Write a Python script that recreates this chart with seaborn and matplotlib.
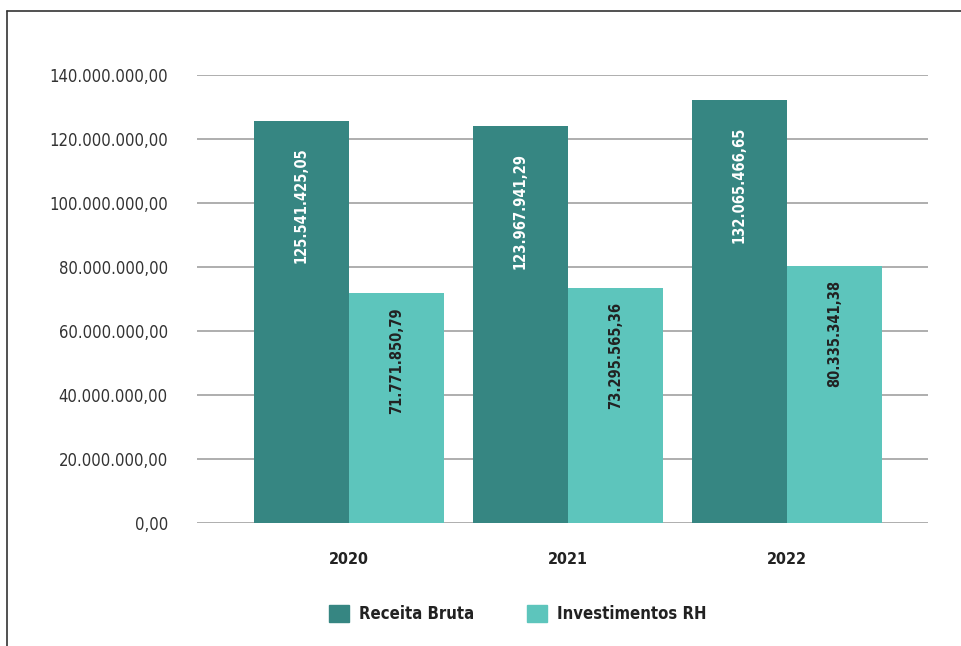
import numpy as np
import pandas as pd
import seaborn as sns
import matplotlib
matplotlib.use('Agg')
import matplotlib.pyplot as plt
from matplotlib import font_manager
from matplotlib.lines import Line2D
from matplotlib.ticker import FuncFormatter, MultipleLocator

# Data
years = ["2020", "2021", "2022"]
receita_bruta = [125541425.05, 123967941.29, 132065466.65]
investimentos_rh = [71771850.79, 73295565.36, 80335341.38]
series_names = ["Receita Bruta", "Investimentos RH"]
colors = ["#368682", "#5dc5bc"]

df = pd.DataFrame({
    "ano": years * 2,
    "serie": [series_names[0]] * len(years) + [series_names[1]] * len(years),
    "valor": receita_bruta + investimentos_rh,
})


def br_format(v, _pos=None):
    s = f"{v:,.2f}"
    return s.replace(",", "X").replace(".", ",").replace("X", ".")


sns.set_theme(style="white")

# pick a condensed face if one is there
fonts = font_manager.fontManager.ttflist
has_condensed = any(f.name == "DejaVu Sans" and "condensed" in str(f.stretch) for f in fonts)
names = {f.name for f in fonts}
if has_condensed:
    family, stretch = ["DejaVu Sans"], "condensed"
elif "Liberation Sans Narrow" in names:
    family, stretch = ["Liberation Sans Narrow"], "normal"
else:
    family, stretch = ["DejaVu Sans"], "normal"
plt.rcParams["font.family"] = family
plt.rcParams["font.stretch"] = stretch

fig = plt.figure(figsize=(9.61, 6.46), dpi=100)
ax = fig.add_axes([0.205, 0.1904, 0.7607, 0.6935])

sns.barplot(data=df, x="ano", y="valor", hue="serie", palette=colors,
            width=0.868, gap=0, saturation=1, linewidth=0, ax=ax, legend=False)

ax.set_xlim(-0.694, 2.644)
ax.set_ylim(0, 140000000)
ax.yaxis.set_major_locator(MultipleLocator(20000000))
ax.yaxis.set_major_formatter(FuncFormatter(br_format))
ax.grid(axis="y", color="#999999", linewidth=1.1)
ax.set_axisbelow(True)
for s in ax.spines.values():
    s.set_visible(False)
ax.tick_params(axis="y", length=0, pad=21, labelsize=12, labelcolor="#333333")
ax.tick_params(axis="x", length=0, pad=21, labelsize=11.5, labelcolor="#222222")
for t in ax.get_xticklabels():
    t.set_fontweight("bold")
ax.set_xlabel("")
ax.set_ylabel("")

# value labels inside bars
label_colors = ["white", "#222222"]
label_offsets = [19, 10]
for container, lc, off in zip(ax.containers, label_colors, label_offsets):
    for bar in container:
        h = bar.get_height()
        ax.annotate(br_format(h), (bar.get_x() + bar.get_width() / 2, h),
                    xytext=(0, -off), textcoords="offset points",
                    rotation=90, ha="center", va="top",
                    fontsize=10.5, fontweight="bold", color=lc)

handles = [plt.Rectangle((0, 0), 1, 1, color=c) for c in colors]
fig.legend(handles, series_names, loc="center", bbox_to_anchor=(0.5385, 0.0495),
           ncol=2, frameon=False, handlelength=1.2, handleheight=1.2,
           handletextpad=0.6, columnspacing=3.2,
           prop={"size": 12, "weight": "bold"}, labelcolor="#222222")

# frame lines at top and left
fig.add_artist(Line2D([0.0073, 0.0073], [0, 0.983], transform=fig.transFigure,
                      color="#333333", linewidth=1.2))
fig.add_artist(Line2D([0.0073, 1], [0.983, 0.983], transform=fig.transFigure,
                      color="#333333", linewidth=1.2))

plt.savefig("out.png", dpi=100)
